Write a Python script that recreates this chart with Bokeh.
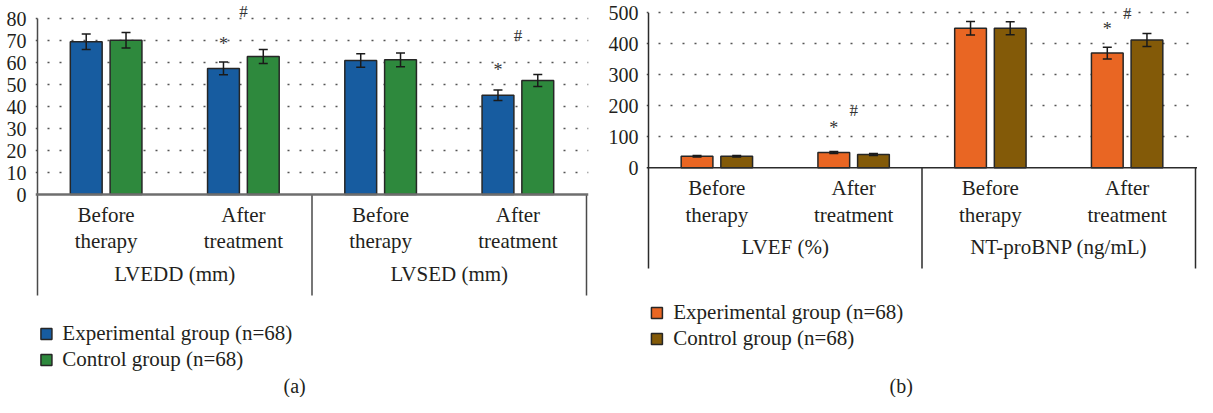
from bokeh.plotting import figure
from bokeh.models import ColumnDataSource, Whisker, FixedTicker, Span
from bokeh.transform import dodge
from bokeh.layouts import row
from bokeh.embed import file_html
from bokeh.resources import INLINE
from bokeh.core.properties import value

# ---------------- data ----------------
timepoints_line1 = ["Before", "After"]
timepoints_line2 = ["therapy", "treatment"]
series_names = ["Experimental group (n=68)", "Control group (n=68)"]

# panel (a)
a_measures = ["LVEDD (mm)", "LVSED (mm)"]
a_exp = [69.4, 57.3, 60.9, 45.1]
a_exp_err = [3.5, 2.9, 3.1, 2.4]
a_ctl = [70.1, 62.7, 61.2, 51.8]
a_ctl_err = [3.5, 3.2, 3.1, 2.7]
a_yticks = [0, 10, 20, 30, 40, 50, 60, 70, 80]
a_sig_index = [1, 3]
a_star_y = [68.6, 56.4]
a_hash_y = [83.0, 72.3]
a_colors = ["#175ca0", "#2e893d"]

# panel (b)
b_measures = ["LVEF (%)", "NT-proBNP (ng/mL)"]
b_exp = [37.4, 49.4, 450, 370]
b_exp_err = [2.5, 3.0, 22, 19]
b_ctl = [37.0, 43.0, 450, 412]
b_ctl_err = [2.5, 3.0, 21, 21]
b_yticks = [0, 100, 200, 300, 400, 500]
b_sig_index = [1, 3]
b_star_y = [127.7, 449]
b_hash_y = [184.8, 499]
b_colors = ["#e96623", "#835a08"]

# ---------------- style / layout ----------------
FONT = "Liberation Serif"
TXT = "#231f20"
EDGE = "#262626"
H = 397
BAR_W = 0.232
OFF = 0.145

geo_a = dict(width=592, mbl=35, axis_px=549, ref_axis_px=553, left_ref=41, zero_ref=194,
             px_y=2.2, top_ref=0, standoff=9, sep_bottom_ref=295, line1_ref=214,
             line2_ref=240.8, group_ref=273.3, leg_sq_x_ref=50, leg_sq_ref=[333.5, 359.5],
             leg_txt_x_ref=66, leg_mid_ref=[332.7, 358.4], cap_x_ref=300, cap_mid_ref=385,
             zero_color="#6e6e6e", zero_width=2.5, sep_color="#4a4a4a")
geo_b = dict(width=605, mbl=54, axis_px=547, ref_axis_px=552, left_ref=661, zero_ref=167.3,
             px_y=0.31, top_ref=0, standoff=8, sep_bottom_ref=268, line1_ref=187.3,
             line2_ref=214.1, group_ref=246.6, leg_sq_x_ref=669.5, leg_sq_ref=[312.5, 338.5],
             leg_txt_x_ref=686, leg_mid_ref=[311.6, 337.3], cap_x_ref=916, cap_mid_ref=385,
             zero_color="#2b2b2b", zero_width=1.5, sep_color="#2b2b2b")


def make_panel(measures, exp, exp_err, ctl, ctl_err, yticks, sig_index, star_y, hash_y,
               colors, caption, g):
    nt = len(timepoints_line1)
    n = len(measures) * nt
    px_x = g["axis_px"] / n
    ref_px_x = g["ref_axis_px"] / n
    pad = 2 / px_x

    def ry(v):
        return (g["zero_ref"] - v) / g["px_y"]

    def rx(v):
        return (v - g["left_ref"]) / ref_px_x

    frame_w = g["axis_px"] + 4
    p = figure(width=g["width"], height=H,
               x_range=(-pad, n + pad),
               y_range=(ry(g["top_ref"] + H), ry(g["top_ref"])),
               output_backend="svg", toolbar_location=None, x_axis_location=None,
               min_border_left=g["mbl"], min_border_right=g["width"] - g["mbl"] - frame_w,
               min_border_top=0, min_border_bottom=0, outline_line_color=None)

    xc = [i + 0.5 for i in range(n)]
    src = ColumnDataSource(dict(
        xc=xc, exp=exp, ctl=ctl,
        exp_lo=[v - e for v, e in zip(exp, exp_err)], exp_hi=[v + e for v, e in zip(exp, exp_err)],
        ctl_lo=[v - e for v, e in zip(ctl, ctl_err)], ctl_hi=[v + e for v, e in zip(ctl, ctl_err)],
    ))

    # axis / grid
    ax = p.yaxis[0]
    ax.ticker = FixedTicker(ticks=yticks)
    ax.axis_line_color = None
    ax.major_tick_line_color = None
    ax.minor_tick_line_color = None
    ax.major_tick_out = 0
    ax.major_tick_in = 0
    ax.major_label_standoff = g["standoff"]
    ax.major_label_text_font = FONT
    ax.major_label_text_font_size = "20px"
    ax.major_label_text_color = TXT
    p.xgrid.visible = False
    p.ygrid.ticker = FixedTicker(ticks=yticks[1:])
    p.ygrid.grid_line_color = "#555555"
    p.ygrid.grid_line_dash = "2 10"
    p.ygrid.grid_line_width = 1.3

    # bars
    p.vbar(x=dodge("xc", -OFF), top="exp", width=BAR_W, source=src,
           fill_color=colors[0], line_color=EDGE, line_width=1.5)
    p.vbar(x=dodge("xc", OFF), top="ctl", width=BAR_W, source=src,
           fill_color=colors[1], line_color=EDGE, line_width=1.5)
    for off, lo, hi in [(-OFF, "exp_lo", "exp_hi"), (OFF, "ctl_lo", "ctl_hi")]:
        w = Whisker(base=dodge("xc", off), lower=lo, upper=hi, source=src, level="overlay",
                    line_color="#1a1a1a", line_width=1.5)
        for h in (w.upper_head, w.lower_head):
            h.size = 9
            h.line_color = "#1a1a1a"
            h.line_width = 1.5
        p.add_layout(w)

    # zero line and separators
    p.add_layout(Span(location=0, dimension="width", line_color=g["zero_color"],
                      line_width=g["zero_width"]))
    bounds = [k * nt for k in range(len(measures) + 1)]
    p.segment(x0=bounds, x1=bounds,
              y0=[yticks[-1] if b == 0 else 0 for b in bounds],
              y1=[ry(g["sep_bottom_ref"])] * len(bounds),
              line_color=g["sep_color"], line_width=1.5)

    tfont = dict(text_font=value(FONT), text_color=TXT, text_align="center",
                 text_baseline="middle")
    # category labels
    p.text(x=xc, y=[ry(g["line1_ref"])] * n,
           text=[t for m in measures for t in timepoints_line1], text_font_size="21px", **tfont)
    p.text(x=xc, y=[ry(g["line2_ref"])] * n,
           text=[t for m in measures for t in timepoints_line2], text_font_size="21px", **tfont)
    gx = [sum(xc[k * nt:(k + 1) * nt]) / nt for k in range(len(measures))]
    p.text(x=gx, y=[ry(g["group_ref"])] * len(gx), text=measures, text_font_size="21px", **tfont)

    # significance marks
    p.text(x=[xc[i] - OFF for i in sig_index], y=star_y, text=["*"] * len(sig_index),
           text_font=value(FONT), text_color="#333333", text_align="center",
           text_baseline="middle", text_font_size="18px")
    p.text(x=[xc[i] for i in sig_index], y=hash_y, text=["#"] * len(sig_index),
           text_font=value(FONT), text_color="#333333", text_align="center",
           text_baseline="middle", text_font_size="17px")

    # legend
    p.scatter(x=[rx(g["leg_sq_x_ref"])] * 2, y=[ry(v) for v in g["leg_sq_ref"]],
              marker="square", size=11, fill_color=colors, line_color=EDGE, line_width=1.5)
    p.text(x=[rx(g["leg_txt_x_ref"])] * 2, y=[ry(v) for v in g["leg_mid_ref"]],
           text=series_names, text_font=value(FONT), text_color=TXT, text_align="left",
           text_baseline="middle", text_font_size="21px")

    # caption
    p.text(x=[rx(g["cap_x_ref"])], y=[ry(g["cap_mid_ref"])], text=[caption],
           text_font_size="20px", **tfont)
    return p


pa = make_panel(a_measures, a_exp, a_exp_err, a_ctl, a_ctl_err, a_yticks, a_sig_index,
                a_star_y, a_hash_y, a_colors, "(a)", geo_a)
pb = make_panel(b_measures, b_exp, b_exp_err, b_ctl, b_ctl_err, b_yticks, b_sig_index,
                b_star_y, b_hash_y, b_colors, "(b)", geo_b)

layout = row(pa, pb)
open("out.html", "w").write(file_html(layout, INLINE))
